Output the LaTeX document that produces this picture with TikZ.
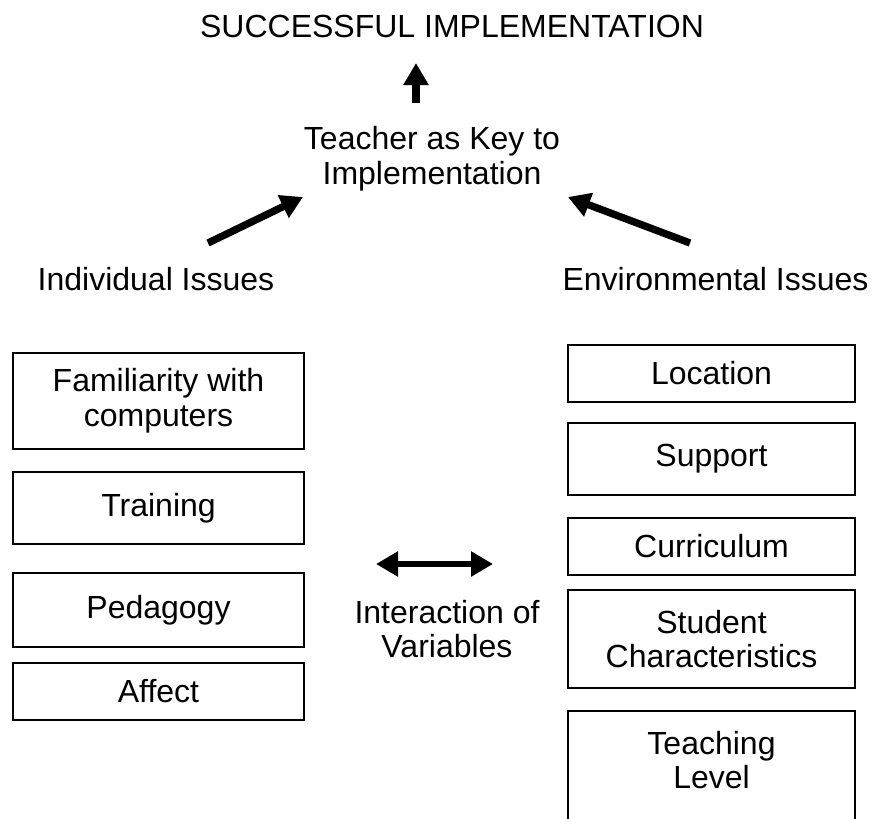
\documentclass[tikz,border=0pt]{standalone}
\usepackage{fontspec}
\setmainfont{Liberation Sans}
\usetikzlibrary{arrows.meta}

\begin{document}
\begin{tikzpicture}[x=0.75pt, y=-0.75pt,
  every node/.style={font=\fontsize{24}{26}\selectfont, inner sep=0pt},
  lbox/.style={draw, line width=1.3pt, align=center, minimum width=218.25pt},
  rbox/.style={draw, line width=1.3pt, align=center, minimum width=215.25pt},
  fat/.style={line width=5.5pt, -{Triangle[length=16.5pt, width=18pt]}},
  both/.style={line width=5pt, {Triangle[length=16.5pt, width=18pt]}-{Triangle[length=16.5pt, width=18pt]}}]
\useasboundingbox (0,0) rectangle (874,818);
\clip (0,0) rectangle (874,818);
\node[anchor=base] (success) at (452,37) {SUCCESSFUL IMPLEMENTATION};
\node[align=center] (teacher) at (432,159) {Teacher as Key to\\Implementation};
\node[anchor=base] (indiv) at (156,290) {Individual Issues};
\node[anchor=base] (envir) at (715.5,290) {Environmental Issues};
\node[align=center] (inter) at (447,629) {Interaction of\\Variables};
\foreach \nm/\cy/\hh/\txt in {fam/401/96/{Familiarity with\\computers}, train/508/72/Training,
    peda/610/74/Pedagogy, affect/691.5/57/Affect}
  \node[lbox, minimum height=\hh*0.75pt] (\nm) at (158.5,\cy) {\txt};
\foreach \nm/\cy/\hh/\txt in {loc/373.5/57/Location, supp/459/72/Support,
    curr/546.5/57/Curriculum, stud/639/98/{Student\\Characteristics}}
  \node[rbox, minimum height=\hh*0.75pt] (\nm) at (711.5,\cy) {\txt};
\node[rbox, anchor=north, inner ysep=15pt, text depth=60pt] (teach) at (711.5,710) {Teaching\\Level};
\coordinate (upS) at (416,103); \coordinate (upE) at (416,63);
\coordinate (leftS) at (208,243); \coordinate (leftE) at (303,197);
\coordinate (rightS) at (690,243); \coordinate (rightE) at (568,197);
\coordinate (mutA) at (376,564); \coordinate (mutB) at (493,564);
\draw[fat] (upS) -- (upE);
\draw[fat] (leftS) -- (leftE);
\draw[fat] (rightS) -- (rightE);
\draw[both] (mutA) -- (mutB);
\end{tikzpicture}
\end{document}
